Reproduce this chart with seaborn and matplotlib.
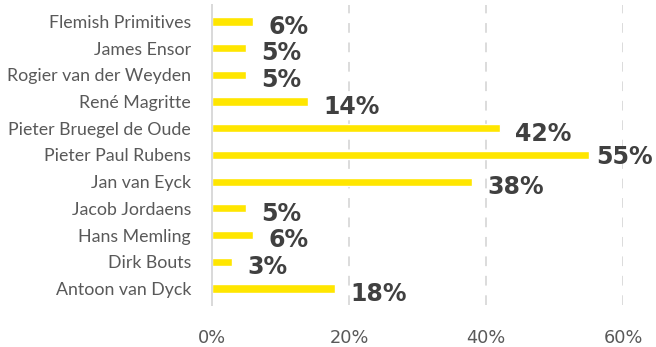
import matplotlib
matplotlib.use("Agg")
import matplotlib.pyplot as plt
import seaborn as sns
import pandas as pd

# Share of respondents naming each painter
painters = [
    "Flemish Primitives", "James Ensor", "Rogier van der Weyden", "René Magritte",
    "Pieter Bruegel de Oude", "Pieter Paul Rubens", "Jan van Eyck", "Jacob Jordaens",
    "Hans Memling", "Dirk Bouts", "Antoon van Dyck",
]
shares = [6, 5, 5, 14, 42, 55, 38, 5, 6, 3, 18]
x_ticks = [0, 20, 40, 60]
x_tick_labels = ["0%", "20%", "40%", "60%"]

df = pd.DataFrame({"painter": painters, "share": shares})

sns.set_theme(style="white")
plt.rcParams["font.family"] = ["Lato", "DejaVu Sans"]

fig = plt.figure(figsize=(6.56, 3.47), dpi=100)
ax = fig.add_axes([0.323, 0.121, 0.627, 0.865])

sns.barplot(data=df, x="share", y="painter", orient="h", color="#FFE600",
            saturation=1, width=0.31, ax=ax)

ax.set_xlim(0, 60)
ax.set_ylim(len(painters) - 0.5 + 0.12, -0.5 - 0.12)
ax.set_xticks(x_ticks)
ax.set_xticklabels(x_tick_labels, family="DejaVu Sans")
ax.set_xlabel("")
ax.set_ylabel("")

# Dashed vertical gridlines, solid baseline on the left
for xv in x_ticks[1:]:
    ax.axvline(xv, color="#dcdcdc", lw=1.4, ls=(0, (5, 5)), zorder=0)
for side in ["top", "right", "bottom"]:
    ax.spines[side].set_visible(False)
ax.spines["left"].set_color("#d9d9d9")
ax.spines["left"].set_linewidth(1.4)

ax.tick_params(axis="x", length=0, pad=17, labelsize=12.8, labelcolor="#595959")
ax.tick_params(axis="y", length=0, pad=15, labelsize=12.8, labelcolor="#595959")

# Value labels at the end of each bar
labels = []
for i, v in enumerate(shares):
    t = ax.annotate(f"{v}%", xy=(v, i), xytext=(11, -2), textcoords="offset points",
                    ha="left", va="center_baseline", fontsize=17, fontweight="bold",
                    family="DejaVu Sans", color="#404040", annotation_clip=False)
    labels.append(t)

# Pull any label that would run past the right edge back inside the figure
fig.canvas.draw()
renderer = fig.canvas.get_renderer()
right_limit = fig.bbox.width - 3
for t in labels:
    bb = t.get_window_extent(renderer)
    if bb.x1 > right_limit:
        dx_pt = (bb.x1 - right_limit) * 72 / fig.dpi
        ox, oy = t.get_position()
        t.set_position((ox - dx_pt, 0))

fig.savefig("out.png", dpi=100)
